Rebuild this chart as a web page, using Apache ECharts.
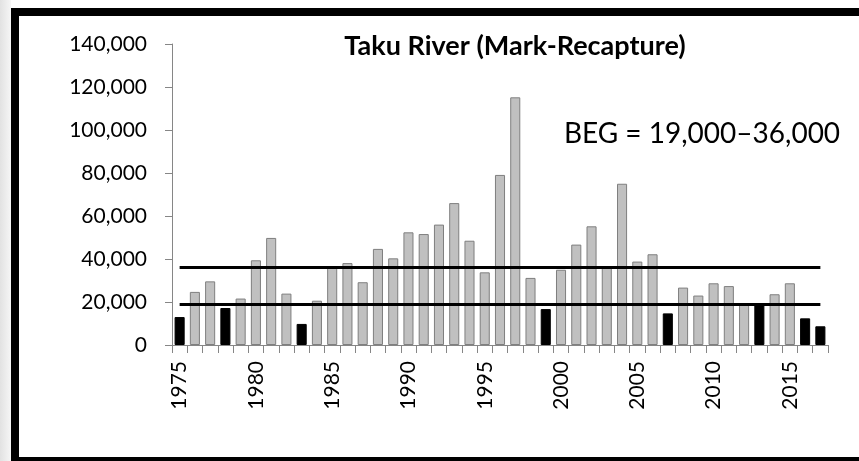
<!DOCTYPE html>
<html>
<head>
<meta charset="utf-8">
<script src="https://cdn.jsdelivr.net/npm/echarts@6/dist/echarts.min.js"></script>
<style>
html,body{margin:0;padding:0;width:859px;height:461px;overflow:hidden;background:#fff;}
#shade{position:absolute;left:0;top:0;width:11px;height:461px;background:linear-gradient(to right,#e2e2e2,#f6f6f6);}
#frame{position:absolute;left:11px;top:8px;width:870px;height:457px;border:8px solid #000;box-sizing:border-box;}
#chart{position:absolute;left:0;top:0;width:859px;height:461px;}
</style>
</head>
<body>
<div id="shade"></div>
<div id="frame"></div>
<div id="chart"></div>
<script>
const years = ['1975','1976','1977','1978','1979','1980','1981','1982','1983','1984',
  '1985','1986','1987','1988','1989','1990','1991','1992','1993','1994',
  '1995','1996','1997','1998','1999','2000','2001','2002','2003','2004',
  '2005','2006','2007','2008','2009','2010','2011','2012','2013','2014',
  '2015','2016','2017'];
const escapement = [13000,24700,29600,17200,21600,39400,49800,23900,9800,20600,
  36500,38100,29200,44700,40300,52400,51600,56000,66000,48500,
  33800,79100,115200,31200,16700,35000,46700,55200,36000,75000,
  38800,42200,14700,26700,23000,28700,27400,19500,18600,23600,
  28700,12400,8700];
const goalLower = 19000;
const goalUpper = 36000;
const yTicks = [0,20000,40000,60000,80000,100000,120000,140000];
const titleText = 'Taku River (Mark-Recapture)';
const goalText = 'BEG = 19,000\u201336,000';

const chart = echarts.init(document.getElementById('chart'), null, {renderer:'canvas'});
const font = 'Lato';
chart.setOption({
  backgroundColor: 'transparent',
  animation: false,
  grid: {left: 172, right: 31, top: 44, bottom: 116, containLabel: false},
  xAxis: {
    type: 'category',
    data: years,
    boundaryGap: true,
    axisLine: {lineStyle: {color: '#868686', width: 1}},
    axisTick: {show: true, alignWithLabel: false, interval: 0, length: 8, lineStyle: {color: '#868686'}},
    axisLabel: {interval: 4, rotate: 90, margin: 16, color: '#000', fontFamily: font, fontSize: 21}
  },
  yAxis: {
    type: 'value',
    min: yTicks[0],
    max: yTicks[yTicks.length - 1],
    interval: yTicks[1] - yTicks[0],
    axisLine: {show: true, lineStyle: {color: '#868686', width: 1}},
    axisTick: {show: true, length: 7, lineStyle: {color: '#868686'}},
    splitLine: {show: false},
    axisLabel: {margin: 25, color: '#000', fontFamily: font, fontSize: 21,
      formatter: v => v.toLocaleString('en-US')}
  },
  series: [{
    type: 'bar',
    barCategoryGap: '34%',
    data: escapement.map(v => ({
      value: v,
      itemStyle: v < goalLower
        ? {color: '#000', borderColor: '#000', borderWidth: 1}
        : {color: '#c0c0c0', borderColor: '#7f7f7f', borderWidth: 1}
    })),
    markLine: {
      silent: true,
      symbol: ['none','none'],
      label: {show: false},
      lineStyle: {color: '#000', width: 3, type: 'solid'},
      data: [
        [{coord: [years[0], goalLower]}, {coord: [years[years.length-1], goalLower]}],
        [{coord: [years[0], goalUpper]}, {coord: [years[years.length-1], goalUpper]}]
      ]
    }
  }],
  graphic: [
    {type: 'text', x: 515, y: 46, style: {text: titleText, align: 'center', verticalAlign: 'middle', fontFamily: font, fontWeight: 'bold', fontSize: 27, fill: '#000'}},
    {type: 'text', x: 702, y: 134, style: {text: goalText, align: 'center', verticalAlign: 'middle', fontFamily: font, fontSize: 28, fill: '#000'}}
  ]
});
</script>
</body>
</html>
